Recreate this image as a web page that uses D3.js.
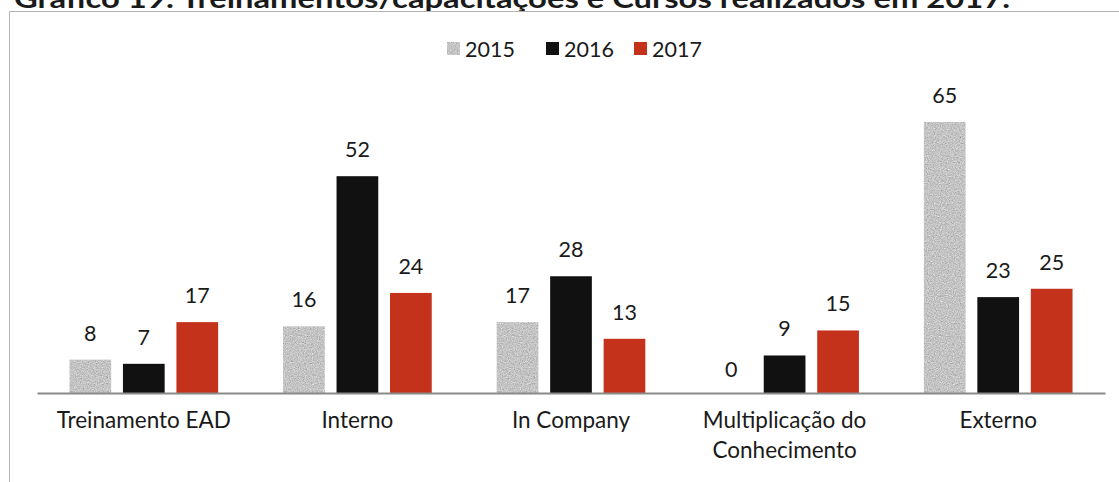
<!DOCTYPE html>
<html>
<head>
<meta charset="utf-8">
<script src="https://cdn.jsdelivr.net/npm/d3@7"></script>
<style>
  html, body { margin: 0; padding: 0; background: #fff; }
  svg { display: block; }
  text { font-family: Lato, "Noto Sans", sans-serif; fill: #1a1a1a; }
</style>
</head>
<body>
<svg id="chart" width="1119" height="482"></svg>
<script>
// Training counts by modality and year
const categories = [["Treinamento EAD"], ["Interno"], ["In Company"], ["Multiplicação do", "Conhecimento"], ["Externo"]];
const years = ["2015", "2016", "2017"];
const values2015 = [8, 16, 17, 0, 65];
const values2016 = [7, 52, 28, 9, 23];
const values2017 = [17, 24, 13, 15, 25];
const seriesValues = [values2015, values2016, values2017];
const titleText = "Gráfico 19: Treinamentos/capacitações e Cursos realizados em 2017.";

const colors = { "2015": "#c4c4c4", "2016": "#111111", "2017": "#c4321c" };

const svg = d3.select("#chart");
const W = 1119, H = 482;

// Grain texture for the light grey bars
const defs = svg.append("defs");
const f = defs.append("filter").attr("id", "grain")
  .attr("x", 0).attr("y", 0).attr("width", 1).attr("height", 1)
  .attr("color-interpolation-filters", "sRGB");
f.append("feTurbulence").attr("type", "fractalNoise").attr("baseFrequency", 0.85)
  .attr("numOctaves", 2).attr("seed", 4).attr("result", "noise");
f.append("feColorMatrix").attr("in", "noise").attr("type", "matrix")
  .attr("values", "0.33 0.33 0.33 0 0  0.33 0.33 0.33 0 0  0.33 0.33 0.33 0 0  0 0 0 0 1")
  .attr("result", "mono");
const ct = f.append("feComponentTransfer").attr("in", "mono").attr("result", "tone");
["feFuncR", "feFuncG", "feFuncB"].forEach(n =>
  ct.append(n).attr("type", "linear").attr("slope", 0.6).attr("intercept", 0.47));
f.append("feComposite").attr("in", "tone").attr("in2", "SourceGraphic").attr("operator", "in");

// Title (runs off the top of the frame)
svg.append("text")
  .attr("x", 14).attr("y", 8)
  .attr("textLength", 996).attr("lengthAdjust", "spacingAndGlyphs")
  .style("font-size", "27px").style("font-weight", "bold")
  .text(titleText);

// Chart frame
svg.append("path")
  .attr("d", `M9.5,${H} V11.5 H${W}`)
  .attr("fill", "none").attr("stroke", "#b4b4b4").attr("stroke-width", 1);

// Scales
const x0 = d3.scaleBand()
  .domain(d3.range(categories.length))
  .range([37, 1105])
  .paddingInner(0.304).paddingOuter(0.152);
const x1 = d3.scaleBand()
  .domain(years)
  .range([0, x0.bandwidth()])
  .paddingInner(0.22).paddingOuter(0);
const y = d3.scaleLinear().domain([0, 65]).range([393, 122]);

// Bars
const groups = svg.append("g").selectAll("g")
  .data(categories.map((c, i) => i))
  .join("g")
  .attr("transform", i => `translate(${x0(i)},0)`);

groups.selectAll("rect")
  .data(i => years.map((yr, s) => ({ yr, v: seriesValues[s][i] })))
  .join("rect")
  .attr("x", d => x1(d.yr))
  .attr("width", x1.bandwidth())
  .attr("y", d => y(d.v))
  .attr("height", d => y(0) - y(d.v))
  .attr("fill", d => colors[d.yr])
  .attr("filter", d => d.yr === "2015" ? "url(#grain)" : null);

// Value labels
groups.selectAll("text.val")
  .data(i => years.map((yr, s) => ({ yr, v: seriesValues[s][i] })))
  .join("text")
  .attr("class", "val")
  .attr("x", d => x1(d.yr) + x1.bandwidth() / 2)
  .attr("y", d => y(d.v) - (d.v === 0 ? 16 : 19))
  .attr("text-anchor", "middle")
  .style("font-size", "21.5px")
  .text(d => d.v);

// Baseline axis
const xAxis = d3.axisBottom(x0).tickSize(0).tickFormat("");
const axisG = svg.append("g").attr("transform", `translate(0,${y(0)})`).call(xAxis);
axisG.select(".domain").attr("stroke", "#8a8a8a").attr("stroke-width", 2);

// Category labels
const catLabels = svg.append("g").selectAll("text")
  .data(categories.map((lines, i) => ({ lines, i })))
  .join("text")
  .attr("text-anchor", "middle")
  .style("font-size", "22.5px")
  .attr("transform", d => `translate(${x0(d.i) + x0.bandwidth() / 2},428)`);
catLabels.selectAll("tspan")
  .data(d => d.lines)
  .join("tspan")
  .attr("x", 0)
  .attr("y", (l, k) => k * 30)
  .text(l => l);

// Legend
const legendX = [447, 546, 634];
const legend = svg.append("g").selectAll("g")
  .data(years)
  .join("g")
  .attr("transform", (d, i) => `translate(${legendX[i]},0)`);
legend.append("rect")
  .attr("x", 0).attr("y", 42).attr("width", 13).attr("height", 13)
  .attr("fill", d => colors[d])
  .attr("filter", d => d === "2015" ? "url(#grain)" : null);
legend.append("text")
  .attr("x", 18).attr("y", 57)
  .style("font-size", "21.5px")
  .text(d => d);
</script>
</body>
</html>
